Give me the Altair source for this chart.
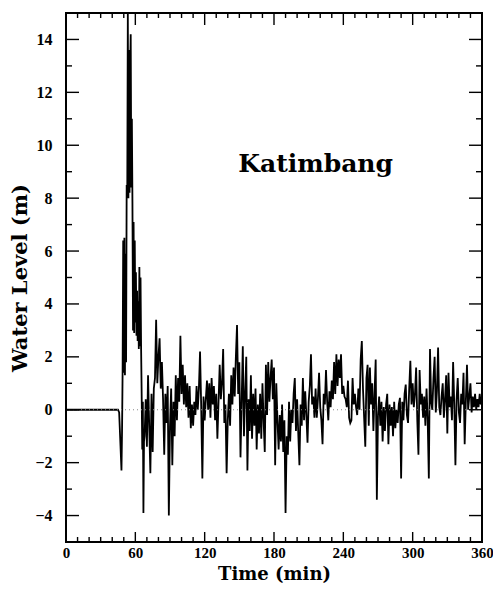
import altair as alt
import pandas as pd

# ---- data ----
time_pre = [0, 45, 46, 47, 48, 48.5, 49, 49.5, 50, 50.5, 51, 51.5, 52, 52.5, 53, 53.5,
            54, 54.5, 55, 55.5, 56, 56.5, 57, 57.5, 58, 58.5, 59, 59.5, 60, 60.5, 61,
            61.5, 62, 62.5, 63, 63.5, 64, 64.5, 65, 65.5, 66, 66.5, 67, 67.5]
level_pre = [0, 0, -0.1, -1.2, -2.3, -0.8, 1.5, 6.4, 1.4, 6.5, 1.3, 5.9, 1.8, 8.5, 8.0, 15.0,
             8.0, 13.6, 8.2, 12.8, 14.2, 8.4, 11.0, 7.8, 3.0, 7.1, 2.9, 6.4, 3.3, 5.2, 2.8,
             4.5, 2.6, 4.1, 2.3, 5.4, 2.4, 5.0, 2.3, 0.5, -1.5, 0.3, -3.9, -1.2]

main_start = 68  # one reading per minute from here to 360
level_main = [
    -1.0, 0.4, -1.4, 1.3, -0.6, -2.4, 0.6, -1.6, 0.8, 1.2,
    3.4, 1.0, 2.0, 2.7, 0.8, 1.8, 0.4, -1.7, 0.6, -0.5,
    0.9, -4.0, -0.6, 0.8, -2.1, 0.3, -1.0, 1.3, -0.4, 1.2,
    0.3, 2.8, 0.6, 1.7, 0.2, 1.3, 0.1, 1.0, -0.3, 0.9,
    -0.7, 0.2, -0.6, 0.3, -0.2, 0.9, 0.0, 0.8, 2.2, 0.1,
    -2.6, 0.5, -0.4, 0.4, 1.1, 0.0, 1.0, -0.3, 1.2, 0.2,
    0.9, -0.4, 0.6, -1.1, 0.3, 1.7, 0.4, 1.0, 2.3, -0.5,
    0.2, -2.4, -0.4, 0.6, -0.6, 1.3, 0.2, 1.6, 0.5, 2.0,
    3.2, 0.6, 1.8, -1.8, 0.3, 2.4, -1.0, 0.6, 2.0, -2.3,
    0.4, -0.8, 1.3, -1.1, 0.6, -0.6, 0.8, -1.5, 0.2, -0.9,
    0.6, -1.1, 1.0, -0.4, -1.6, 1.7, -0.2, 1.8, 0.3, 1.2,
    1.9, 0.4, 1.6, -2.1, 1.0, -0.4, -1.5, -0.2, -1.2, 0.2,
    -1.6, -0.4, -3.9, -1.0, -1.7, 0.3, -1.2, 0.0, -0.5, 0.6,
    1.2, -0.8, 0.4, -0.9, -2.1, 0.2, -0.6, 1.2, -0.4, 0.7,
    -0.2, -1.25, 0.3, 0.9, 2.1, 0.2, 0.5, -0.3, 0.8, -0.3,
    0.4, 1.4, 0.1, -0.4, -1.3, 0.6, 0.2, 1.5, 0.3, -0.4,
    0.7, 0.1, 1.1, 0.4, 1.8, 0.6, 2.1, 0.9, 1.9, 1.2,
    2.1, 0.6, 0.9, 0.5, 0.4, 0.1, 1.1, -0.3, -0.5, -0.4,
    1.2, 0.2, 0.6, 0.1, -0.2, 0.8, 0.0, 1.9, 2.6, 0.8,
    -0.3, -1.4, 1.2, 1.7, -0.6, 1.6, 0.2, 1.0, -0.8, 0.6,
    1.9, -3.4, -0.2, 0.5, -0.6, 0.3, -1.2, 0.1, -0.8, 0.2,
    0.6, -1.3, 0.2, -0.6, 0.1, -1.0, 0.3, -0.7, 0.0, -0.5,
    0.2, 0.45, -2.6, 0.3, -0.4, 0.6, 0.95, -0.2, -0.5, 0.8,
    1.85, 0.2, 1.0, 0.1, 0.6, 1.6, -0.4, -1.7, 1.5, 0.2,
    0.6, -0.3, 0.5, -0.6, 0.8, -0.4, -2.6, 2.3, 0.3, 0.0,
    1.2, 2.0, -0.1, 0.7, 2.35, 0.1, -0.2, 0.5, 1.0, -0.3,
    0.4, 1.3, -0.9, 1.4, 0.1, 0.5, -0.4, 1.8, 0.2, -2.1,
    0.4, 1.2, -0.1, -0.5, 0.6, 0.2, 1.4, -1.3, 0.3, 1.7,
    0.0, 0.5, 1.0, -0.1, 0.5, 0.1, 0.6, 0.0, 0.4, 0.1,
    0.6, 0.2, 0.4,
]

x_labels = [0, 60, 120, 180, 240, 300, 360]
x_minor = [10, 20, 30, 40, 50, 70, 80, 90, 100, 110, 130, 140, 150, 160, 170,
           190, 200, 210, 220, 230, 250, 260, 270, 280, 290, 310, 320, 330, 340, 350]
y_labels = [-4, -2, 0, 2, 4, 6, 8, 10, 12, 14]
y_minor = [-3, -1, 1, 3, 5, 7, 9, 11, 13]

label_text = ["Katimbang"]
label_t = [216]
label_v = [9.3]

# ---- chart ----
W, H = 416, 529
time = time_pre + list(range(main_start, main_start + len(level_main)))
level = level_pre + level_main
df = pd.DataFrame({"t": time, "v": level})

xs = alt.Scale(domain=[0, 360], nice=False, zero=False)
ys = alt.Scale(domain=[-5, 15], nice=False, zero=False)

LABEL_FONT = "Liberation Serif"
TITLE_FONT = "DejaVu Serif"

x_axis = alt.Axis(values=x_labels, title="Time (min)", ticks=False, domain=False, grid=False,
                  labelFont=LABEL_FONT, labelFontWeight="bold", labelFontSize=15,
                  labelColor="black", labelPadding=3, labelFlush=False,
                  titleFont=TITLE_FONT, titleFontSize=18, titleFontWeight="bold",
                  titleColor="black", titleBaseline="alphabetic", titleY=37)
y_axis = alt.Axis(values=y_labels, title="Water Level (m)", ticks=False, domain=False, grid=False,
                  labelFont=LABEL_FONT, labelFontWeight="bold", labelFontSize=16,
                  labelColor="black", labelPadding=14, labelFlush=False,
                  titleFont=TITLE_FONT, titleFontSize=21, titleFontWeight="bold",
                  titleColor="black", titlePadding=4)

zero_line = alt.Chart(pd.DataFrame({"v": [0]})).mark_rule(
    color="#888888", strokeWidth=1, strokeDash=[1, 3]
).encode(y=alt.Y("v:Q", scale=ys, axis=None))

line = alt.Chart(df).mark_line(color="black", strokeWidth=1.8).encode(
    x=alt.X("t:Q", scale=xs, axis=x_axis),
    y=alt.Y("v:Q", scale=ys, axis=y_axis),
    order="t:Q",
)


def xticks(vals, len_bottom, len_top):
    d = pd.DataFrame({"t": vals})
    base = alt.Chart(d).mark_rule(color="black", strokeWidth=1.4)
    bottom = base.encode(x=alt.X("t:Q", scale=xs, axis=None),
                         y=alt.value(H), y2=alt.value(H - len_bottom))
    top = base.encode(x=alt.X("t:Q", scale=xs, axis=None),
                      y=alt.value(0), y2=alt.value(len_top))
    return [bottom, top]


def yticks(vals, length):
    d = pd.DataFrame({"v": vals})
    base = alt.Chart(d).mark_rule(color="black", strokeWidth=1.4)
    left = base.encode(y=alt.Y("v:Q", scale=ys, axis=None),
                       x=alt.value(0), x2=alt.value(length))
    right = base.encode(y=alt.Y("v:Q", scale=ys, axis=None),
                        x=alt.value(W), x2=alt.value(W - length))
    return [left, right]


ticks = (xticks(x_labels, 10, 12) + xticks(x_minor, 5, 5)
         + yticks(y_labels, 13) + yticks(y_minor, 6))

label = alt.Chart(pd.DataFrame({"t": label_t, "v": label_v, "txt": label_text})).mark_text(
    font=TITLE_FONT, fontSize=25, fontWeight="bold", color="black", align="center", baseline="middle"
).encode(x=alt.X("t:Q", scale=xs, axis=None), y=alt.Y("v:Q", scale=ys, axis=None), text="txt:N")

chart = alt.layer(line, zero_line, *ticks, label).resolve_axis(
    x="independent", y="independent"
).properties(
    width=W, height=H,
    autosize=alt.AutoSizeParams(type="none"),
    padding={"left": 58, "top": 5, "right": 11, "bottom": 41},
    background="white",
).configure_view(stroke="black", strokeWidth=2)

chart.save("out.html", embed_options={"renderer": "svg", "actions": False})
